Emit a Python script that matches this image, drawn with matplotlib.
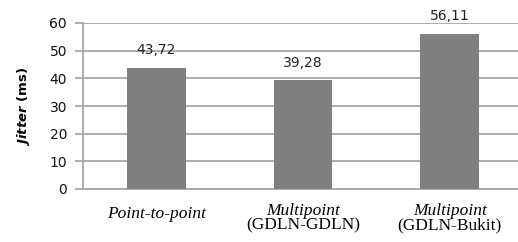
import numpy as np
import matplotlib.pyplot as plt

categories = ["Point-to-point", "Multipoint\n(GDLN-GDLN)", "Multipoint\n(GDLN-Bukit)"]
jitter = [43.72, 39.28, 56.11]
value_labels = ["43,72", "39,28", "56,11"]

plt.rcParams['mathtext.fontset'] = 'dejavusans'

fig = plt.figure(figsize=(5.18, 2.42), dpi=100)
ax = fig.add_axes([83/518, 1 - 189/242, 440/518, (189 - 23)/242])

x = np.arange(len(categories))
bars = ax.bar(x, jitter, width=0.4, color="#7f7f7f", zorder=3)

for xi, v, lab in zip(x, jitter, value_labels):
    ax.text(xi, v + 4.9, lab, ha="center", va="baseline", fontsize=10, color="#222222")

ax.set_xlim(-0.5, 2.5)
ax.set_ylim(0, 60)
ax.set_yticks(np.arange(0, 61, 10))
ax.grid(axis="y", color="#a6a6a6", linewidth=1.3, zorder=0)
for s in ["top", "right"]:
    ax.spines[s].set_visible(False)
ax.spines["left"].set_color("#a6a6a6")
ax.spines["left"].set_linewidth(1.3)
ax.spines["bottom"].set_color("#a6a6a6")
ax.spines["bottom"].set_linewidth(1.3)
ax.tick_params(axis="y", length=5.5, width=1.3, color="#a6a6a6", labelsize=10, pad=6, labelcolor="#111111")
ax.tick_params(axis="x", length=0)

ax.set_xticks(x)
ax.set_xticklabels([])
# two-line serif labels: first line italic
for xi, lab in zip(x, categories):
    parts = lab.split("\n")
    if len(parts) == 1:
        ax.text(xi, -10.5, parts[0], ha="center", va="baseline", family="Liberation Serif",
                style="italic", fontsize=12.5, clip_on=False)
    else:
        ax.text(xi, -9.3, parts[0], ha="center", va="baseline", family="Liberation Serif",
                style="italic", fontsize=12.5, clip_on=False)
        ax.text(xi, -14.6, parts[1], ha="center", va="baseline", family="Liberation Serif",
                fontsize=12.5, clip_on=False)

ax.set_ylabel(r"$\mathbfit{Jitter}$ (ms)", fontsize=9.5, fontweight="bold")
ax.yaxis.set_label_coords(-51/440, 0.5)

fig.savefig("out.png", dpi=100)
